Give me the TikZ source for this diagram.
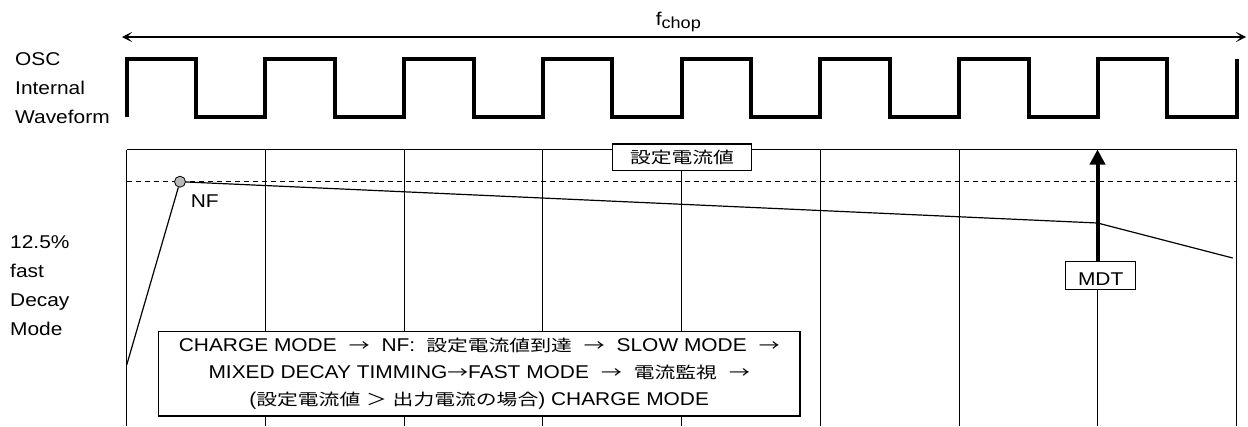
\documentclass[tikz,border=0pt]{standalone}
\usepackage{fontspec}
\setmainfont[FakeStretch=1.13]{Liberation Sans}
\newfontfamily\jp[FakeStretch=1.3]{Noto Sans CJK JP}
\usetikzlibrary{arrows.meta}
\usetikzlibrary{positioning}
\usetikzlibrary{calc}

\newcommand\ja[1]{{\jp\fontsize{16}{20}\selectfont #1}}
\newcommand\nextstep{\hspace{12pt}\ja{→}\hspace{12pt}}

\begin{document}
\begin{tikzpicture}[x=1pt, y=-1pt,
  every node/.style={inner sep=0pt, font=\fontsize{18.5}{28.8}\selectfont},
  wave/.style={line width=4pt},
  gridline/.style={line width=1.1pt},
  dashline/.style={line width=1.1pt, dash pattern=on 5pt off 4pt},
  cur/.style={line width=1.2pt},
  tagbox/.style={draw, fill=white, line width=1.2pt}]

        \useasboundingbox (0,0) rectangle (1248,426);

        \def\xo{126.7} % left edge of the grid
        \def\half{69.375} % half a chop period

        % f_chop span
        \coordinate (fl) at (122,37);
        \coordinate (fr) at (1246,37);
        \draw[{Stealth[length=10pt,width=10pt,inset=5pt]}-{Stealth[length=10pt,width=10pt,inset=5pt]}, line width=1.2pt] (fl) -- (fr);
        \node[anchor=base] (fchop) at (678.3,25) {f\raisebox{-3.5pt}{\fontsize{16}{16}\selectfont chop}};

        % OSC waveform
        \draw[wave] (\xo,117) \foreach \i in {1,...,8} {
          -- ++(0,-58) -- ++(\half,0) -- ++(0,58) -- ++(\half,0)
        } -- ++(0,-58);

        \node[anchor=north west, align=left] (osc) at (15,52.5) {OSC\\Internal\\Waveform};
        \node[anchor=north west, align=left] (mode) at (10,235.5) {12.5\%\\fast\\Decay\\Mode};

        % grid
        \foreach \i in {0,...,8} {
          \pgfmathsetmacro\gx{floor(\xo + 2*\half*\i) + 0.5}
          \coordinate (gt\i) at (\gx,149.5);
          \coordinate (gb\i) at (\gx,426);
          \draw[gridline] (gt\i) -- (gb\i);
        }
        \draw[gridline] (gt0) -- (gt8);

        \coordinate (d0) at (gt0 |- 0,181.7);
        \coordinate (d1) at (gt8 |- 0,181.7);
        \draw[dashline] (d0) -- (d1);

        % current
        \node[circle, draw, fill=gray!55, minimum size=11pt, line width=0.8pt] (nf) at (180,181.7) {};
        \node[anchor=north west] (nflbl) at (190.7,194.5) {NF};

        \coordinate (c0) at (\xo,365);
        \coordinate (c1) at (1097.5,223);
        \coordinate (c2) at (1232.7,258);
        \draw[cur] (c0) -- (nf) -- (c1) -- (c2);

        \node[tagbox, minimum width=70pt, minimum height=27.6pt, text height=22pt, text depth=2pt] (mdt) at (1100.7,275.5) {MDT};
        \draw[line width=4pt, -{Triangle[length=15pt,width=15pt]}] (gt7 |- mdt.north) -- (gt7);

        \node[tagbox, minimum width=139.4pt, minimum height=26.7pt] (setval) at (682,157.3) {\ja{設定電流値}};

        \node[tagbox, minimum width=641.7pt, minimum height=84.3pt, align=center, font=\fontsize{18.5}{27.2}\selectfont] (flow) at (479.2,373.8)
          {CHARGE MODE\nextstep NF:\hspace{11pt}\ja{設定電流値到達}\nextstep SLOW MODE\hspace{12pt}\ja{→}\\
           MIXED DECAY TIMMING\ja{→}FAST MODE\nextstep\ja{電流監視}\hspace{12pt}\ja{→}\\
           (\ja{設定電流値} \ja{＞} \ja{出力電流の場合}) CHARGE MODE};

      \end{tikzpicture}
\end{document}
